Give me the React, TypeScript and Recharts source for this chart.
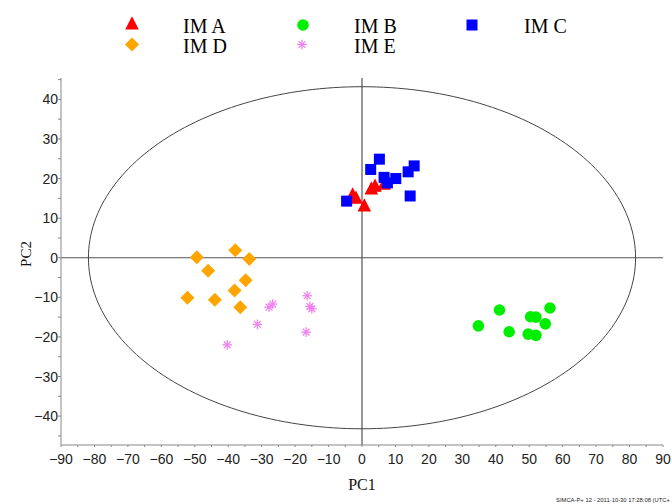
import React from 'react';
import { ScatterChart, Scatter, XAxis, YAxis, ReferenceLine } from 'recharts';

type Pt = { x: number; y: number };

// PCA score values (PC1, PC2) for each group
const imA: Pt[] = [
  { x: -2.8, y: 15.6 },
  { x: -1.8, y: 14.8 },
  { x: 0.7, y: 12.8 },
  { x: 2.8, y: 17.1 },
  { x: 3.9, y: 17.8 },
  { x: 6.6, y: 18.3 },
];
const imB: Pt[] = [
  { x: 34.8, y: -17.2 },
  { x: 41.1, y: -13.2 },
  { x: 44.0, y: -18.7 },
  { x: 50.4, y: -14.9 },
  { x: 52.0, y: -15.0 },
  { x: 49.7, y: -19.3 },
  { x: 52.0, y: -19.6 },
  { x: 54.8, y: -16.7 },
  { x: 56.2, y: -12.7 },
];
const imC: Pt[] = [
  { x: -4.6, y: 14.3 },
  { x: 5.2, y: 24.9 },
  { x: 2.6, y: 22.3 },
  { x: 6.6, y: 20.3 },
  { x: 7.6, y: 18.9 },
  { x: 10.1, y: 20.0 },
  { x: 13.8, y: 21.7 },
  { x: 15.6, y: 23.2 },
  { x: 14.4, y: 15.6 },
];
const imD: Pt[] = [
  { x: -49.4, y: 0.1 },
  { x: -37.9, y: 1.9 },
  { x: -33.7, y: -0.3 },
  { x: -46.0, y: -3.3 },
  { x: -34.8, y: -5.7 },
  { x: -38.1, y: -8.3 },
  { x: -52.2, y: -10.1 },
  { x: -44.0, y: -10.6 },
  { x: -36.4, y: -12.5 },
];
const imE: Pt[] = [
  { x: -16.4, y: -9.6 },
  { x: -15.6, y: -12.3 },
  { x: -15.0, y: -12.9 },
  { x: -26.7, y: -11.7 },
  { x: -27.8, y: -12.5 },
  { x: -31.3, y: -16.8 },
  { x: -16.7, y: -18.8 },
  { x: -40.3, y: -22.0 },
];

const groupNames = ['IM A', 'IM B', 'IM C', 'IM D', 'IM E'];

// Axis ticks (labels shown on multiples of 10)
const xTicks = [
  -90, -85, -80, -75, -70, -65, -60, -55, -50, -45, -40, -35, -30, -25, -20, -15, -10, -5,
  0, 5, 10, 15, 20, 25, 30, 35, 40, 45, 50, 55, 60, 65, 70, 75, 80, 85, 90,
];
const yTicks = [-45, -40, -35, -30, -25, -20, -15, -10, -5, 0, 5, 10, 15, 20, 25, 30, 35, 40, 45];
const xDomain: [number, number] = [-90, 90];
const yDomain: [number, number] = [-47.3, 45.4];

// Hotelling T2 (95%) ellipse radii in score units
const ELLIPSE_RX = 81.8;
const ELLIPSE_RY = 43.2;
const ellipse: Pt[] = Array.from({ length: 241 }, (_, i) => {
  const t = (i / 240) * Math.PI * 2;
  return { x: ELLIPSE_RX * Math.cos(t), y: ELLIPSE_RY * Math.sin(t) };
});

const RED = '#ff0000';
const GREEN = '#00ee00';
const BLUE = '#0000ff';
const ORANGE = '#ffa500';
const VIOLET = '#ee82ee';

const fmt = (v: number) => (v < 0 ? `\u2212${Math.abs(v)}` : `${v}`);

type ShapeProps = { cx?: number; cy?: number };

const TriangleMark = ({ cx = 0, cy = 0 }: ShapeProps) => (
  <polygon
    points={`${cx},${cy - 8.7} ${cx - 6.8},${cy + 4.5} ${cx + 6.8},${cy + 4.5}`}
    fill={RED}
  />
);
const CircleMark = ({ cx = 0, cy = 0 }: ShapeProps) => <circle cx={cx} cy={cy} r={5.8} fill={GREEN} />;
const SquareMark = ({ cx = 0, cy = 0 }: ShapeProps) => (
  <rect x={cx - 5.5} y={cy - 5.5} width={11} height={11} fill={BLUE} />
);
const DiamondMark = ({ cx = 0, cy = 0 }: ShapeProps) => (
  <polygon
    points={`${cx},${cy - 7} ${cx + 7},${cy} ${cx},${cy + 7} ${cx - 7},${cy}`}
    fill={ORANGE}
  />
);
const StarMark = ({ cx = 0, cy = 0 }: ShapeProps) => {
  const r = 4.8;
  const d = r * Math.SQRT1_2;
  return (
    <g stroke={VIOLET} strokeWidth={1.3}>
      <line x1={cx - r} y1={cy} x2={cx + r} y2={cy} />
      <line x1={cx} y1={cy - r} x2={cx} y2={cy + r} />
      <line x1={cx - d} y1={cy - d} x2={cx + d} y2={cy + d} />
      <line x1={cx - d} y1={cy + d} x2={cx + d} y2={cy - d} />
    </g>
  );
};
const NoMark = () => <g />;

const TICK_FONT = '"Liberation Sans", Arial, sans-serif';
const SERIF = '"Liberation Serif", "Times New Roman", serif';

const XTick = (props: any) => {
  const { x, y, payload } = props;
  const v = payload.value as number;
  if (v % 10 !== 0) return <g />;
  return (
    <text x={x} y={y} dy={15} textAnchor="middle" fontFamily={TICK_FONT} fontSize={14} fill="#222">
      {fmt(v)}
    </text>
  );
};

const YTick = (props: any) => {
  const { x, y, payload } = props;
  const v = payload.value as number;
  if (v % 10 !== 0) return <g />;
  return (
    <text x={x} y={y} dy={5} textAnchor="end" fontFamily={TICK_FONT} fontSize={14} fill="#222">
      {fmt(v)}
    </text>
  );
};

const legendItems = [
  { name: groupNames[0], Mark: TriangleMark, mx: 132, tx: 183, row: 0 },
  { name: groupNames[1], Mark: CircleMark, mx: 303, tx: 354, row: 0 },
  { name: groupNames[2], Mark: SquareMark, mx: 472, tx: 524, row: 0 },
  { name: groupNames[3], Mark: DiamondMark, mx: 132, tx: 183, row: 1 },
  { name: groupNames[4], Mark: StarMark, mx: 302, tx: 354, row: 1 },
];

export default function App() {
  return (
    <div style={{ position: 'absolute', left: 0, top: 0, width: 672, height: 504, background: '#fff' }}>
      <ScatterChart
        width={672}
        height={504}
        margin={{ top: 78, right: 9, bottom: 29, left: 0 }}
      >
        <XAxis
          type="number"
          dataKey="x"
          domain={xDomain}
          ticks={xTicks}
          allowDataOverflow
          height={30}
          stroke="#888"
          tickSize={2}
          tickMargin={2}
          tick={<XTick />}
          interval={0}
        />
        <YAxis
          type="number"
          dataKey="y"
          domain={yDomain}
          ticks={yTicks}
          allowDataOverflow
          width={61}
          stroke="#888"
          tickSize={3}
          tickMargin={0}
          tick={<YTick />}
          interval={0}
        />
        <ReferenceLine x={0} stroke="#555" strokeWidth={1.2} />
        <ReferenceLine y={0} stroke="#555" strokeWidth={1.2} />
        <Scatter
          data={ellipse}
          line={{ stroke: '#444', strokeWidth: 1 }}
          lineType="joint"
          shape={NoMark}
          legendType="none"
          isAnimationActive={false}
        />
        <Scatter name={groupNames[3]} data={imD} shape={DiamondMark} isAnimationActive={false} />
        <Scatter name={groupNames[4]} data={imE} shape={StarMark} isAnimationActive={false} />
        <Scatter name={groupNames[1]} data={imB} shape={CircleMark} isAnimationActive={false} />
        <Scatter name={groupNames[0]} data={imA} shape={TriangleMark} isAnimationActive={false} />
        <Scatter name={groupNames[2]} data={imC} shape={SquareMark} isAnimationActive={false} />
      </ScatterChart>
      <svg
        width={672}
        height={504}
        style={{ position: 'absolute', left: 0, top: 0, pointerEvents: 'none' }}
      >
        {legendItems.map(({ name, Mark, mx, tx, row }) => (
          <g key={name}>
            <Mark cx={mx} cy={row === 0 ? 25 : 44.5} />
            <text x={tx} y={row === 0 ? 32.5 : 52.5} fontFamily={SERIF} fontSize={20} fill="#000">
              {name}
            </text>
          </g>
        ))}
        <text x={362} y={490} textAnchor="middle" fontFamily={SERIF} fontSize={16} fill="#111">
          PC1
        </text>
        <text
          x={30.5}
          y={254}
          textAnchor="middle"
          transform="rotate(-90, 30.5, 254)"
          fontFamily={SERIF}
          fontSize={15}
          fill="#111"
        >
          PC2
        </text>
        <text
          x={556}
          y={502}
          textLength={114}
          lengthAdjust="spacingAndGlyphs"
          fontFamily={TICK_FONT}
          fontSize={6}
          fill="#222"
        >
          SIMCA-P+ 12 - 2011-10-30 17:28:08 (UTC+
        </text>
      </svg>
    </div>
  );
}
